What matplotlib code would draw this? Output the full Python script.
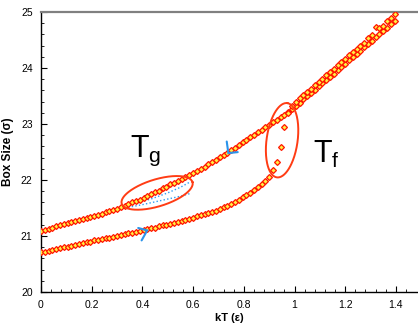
import matplotlib
matplotlib.use("Agg")
import matplotlib.pyplot as plt
import numpy as np

plt.rcParams['font.family'] = ['Liberation Sans', 'DejaVu Sans']

# temperature grid shared by both runs
kT = [0.000, 0.015, 0.030, 0.045, 0.060, 0.075, 0.090, 0.105, 0.120, 0.135,
      0.150, 0.165, 0.180, 0.195, 0.210, 0.225, 0.240, 0.255, 0.270, 0.285,
      0.300, 0.315, 0.330, 0.345, 0.360, 0.375, 0.390, 0.405, 0.420, 0.435,
      0.450, 0.465, 0.480, 0.495, 0.510, 0.525, 0.540, 0.555, 0.570, 0.585,
      0.600, 0.615, 0.630, 0.645, 0.660, 0.675, 0.690, 0.705, 0.720, 0.735,
      0.750, 0.765, 0.780, 0.795, 0.810, 0.825, 0.840, 0.855, 0.870, 0.885,
      0.900, 0.915, 0.930, 0.945, 0.960, 0.975, 0.990, 1.005, 1.020, 1.035,
      1.050, 1.065, 1.080, 1.095, 1.110, 1.125, 1.140, 1.155, 1.170, 1.185,
      1.200, 1.215, 1.230, 1.245, 1.260, 1.275, 1.290, 1.305, 1.320, 1.335,
      1.350, 1.365, 1.380, 1.395]

# cooling run (liquid -> glass)
box_cool = [21.09, 21.11, 21.13, 21.15, 21.17, 21.19, 21.21, 21.23, 21.25, 21.27,
            21.29, 21.30, 21.32, 21.34, 21.36, 21.38, 21.40, 21.42, 21.45, 21.47,
            21.49, 21.52, 21.54, 21.57, 21.60, 21.62, 21.65, 21.68, 21.71, 21.75,
            21.78, 21.81, 21.85, 21.88, 21.92, 21.95, 21.99, 22.02, 22.06, 22.09,
            22.13, 22.16, 22.20, 22.24, 22.28, 22.32, 22.36, 22.41, 22.45, 22.49,
            22.53, 22.58, 22.62, 22.67, 22.71, 22.76, 22.80, 22.85, 22.89, 22.94,
            22.98, 23.03, 23.07, 23.12, 23.16, 23.21, 23.27, 23.33, 23.38, 23.44,
            23.50, 23.56, 23.61, 23.67, 23.73, 23.79, 23.84, 23.90, 23.96, 24.02,
            24.08, 24.14, 24.20, 24.25, 24.31, 24.37, 24.43, 24.49, 24.55, 24.60,
            24.66, 24.72, 24.78, 24.84]

# heating run (crystal -> liquid)
box_heat = [20.71, 20.72, 20.74, 20.75, 20.77, 20.78, 20.80, 20.81, 20.83, 20.84,
            20.86, 20.87, 20.89, 20.90, 20.92, 20.93, 20.95, 20.96, 20.97, 20.99,
            21.00, 21.02, 21.03, 21.05, 21.06, 21.08, 21.09, 21.11, 21.12, 21.14,
            21.15, 21.17, 21.19, 21.20, 21.22, 21.24, 21.25, 21.27, 21.29, 21.31,
            21.33, 21.35, 21.37, 21.39, 21.41, 21.43, 21.45, 21.48, 21.51, 21.54,
            21.58, 21.61, 21.65, 21.69, 21.73, 21.77, 21.82, 21.87, 21.92, 21.98,
            22.05, 22.17, 22.33, 22.59, 22.95, 23.20, 23.33, 23.39, 23.46, 23.52,
            23.58, 23.63, 23.70, 23.75, 23.81, 23.88, 23.93, 23.99, 24.06, 24.11,
            24.16, 24.23, 24.28, 24.34, 24.40, 24.45, 24.53, 24.59, 24.73, 24.71,
            24.75, 24.84, 24.90, 24.96]

# blue dotted runs
blue_kT = [0.0, 0.1, 0.2, 0.3, 0.4, 0.5, 0.6, 0.7, 0.8, 0.9, 0.95]
blue_box = [21.08, 21.21, 21.34, 21.47, 21.64, 21.87, 22.11, 22.37, 22.66, 22.96, 23.12]
branch1_kT = [0.33, 0.40, 0.45, 0.50, 0.55, 0.59]
branch1_box = [21.50, 21.56, 21.61, 21.66, 21.71, 21.76]
branch2_kT = [0.38, 0.44, 0.50, 0.55, 0.59]
branch2_box = [21.59, 21.67, 21.77, 21.87, 21.97]

fig = plt.figure(figsize=(4.18, 3.30), dpi=100)
ax = fig.add_axes([41 / 418, 38 / 330, 377 / 418, 280 / 330])
ax.set_xlim(0, 377 / 253.5)
ax.set_ylim(20, 25)

dot = (0, (1, 1.6))
ax.plot(blue_kT, blue_box, color='#2f9bf0', lw=1.0, ls=dot, zorder=2)
ax.plot(branch1_kT, branch1_box, color='#2f9bf0', lw=1.0, ls=dot, zorder=2)
ax.plot(branch2_kT, branch2_box, color='#2f9bf0', lw=1.0, ls=dot, zorder=2)

mk = dict(ls='none', marker='D', ms=3.0, mfc='#ffee44', mec='#ff1400', mew=0.9, zorder=3)
ax.plot(kT, box_cool, **mk)
ax.plot(kT, box_heat, **mk)

fig.canvas.draw()
to_px = ax.transData
to_data = ax.transData.inverted()


def ellipse(cx, cy, a, b, ang):
    p = to_px.transform((cx, cy))
    t = np.linspace(0, 2 * np.pi, 200)
    th = np.radians(ang)
    px = p[0] + a * np.cos(t) * np.cos(th) - b * np.sin(t) * np.sin(th)
    py = p[1] + a * np.cos(t) * np.sin(th) + b * np.sin(t) * np.cos(th)
    d = to_data.transform(np.column_stack([px, py]))
    ax.plot(d[:, 0], d[:, 1], color='#ff3c14', lw=1.4, zorder=4)


def chevron(x0, y0, arms):
    p = to_px.transform((x0, y0))
    pts = [(p[0] + arms[0][0], p[1] + arms[0][1]), (p[0], p[1]),
           (p[0] + arms[1][0], p[1] + arms[1][1])]
    d = to_data.transform(pts)
    ax.plot(d[:, 0], d[:, 1], color='#2a93ea', lw=1.5, zorder=5,
            solid_capstyle='round', solid_joinstyle='miter')


ellipse(0.458, 21.77, 37, 13.5, 17)
ellipse(0.951, 22.71, 37.5, 15.5, 82)
chevron(0.739, 22.48, [(-1.6, 11.6), (9.4, 1.0)])
chevron(0.419, 21.10, [(-9.0, 2.4), (-5.6, -10.0)])

ax.text(0.351, 22.41, r'$\mathregular{T_g}$', fontsize=22, ha='left', va='baseline')
ax.text(1.073, 22.30, r'$\mathregular{T_f}$', fontsize=22, ha='left', va='baseline')

ax.set_xticks([0, 0.2, 0.4, 0.6, 0.8, 1.0, 1.2, 1.4])
ax.set_xticklabels(['0', '0.2', '0.4', '0.6', '0.8', '1', '1.2', '1.4'])
ax.set_xticks(np.arange(0, 1.48, 0.04), minor=True)
ax.set_yticks([20, 21, 22, 23, 24, 25])
ax.set_yticks(np.arange(20, 25.01, 0.2), minor=True)
ax.tick_params(which='both', direction='in', top=False, right=False, labelsize=7.5, pad=6)
ax.tick_params(which='major', length=4, width=0.8)
ax.tick_params(which='minor', length=2, width=0.6)

ax.spines['right'].set_visible(False)
ax.spines['top'].set_color('#808080')
ax.spines['top'].set_linewidth(1.6)
ax.spines['left'].set_linewidth(1.0)
ax.spines['bottom'].set_linewidth(1.0)

ax.set_xlabel('kT (ε)', fontsize=8, fontweight='bold', labelpad=2)
ax.set_ylabel('Box Size (σ)', fontsize=8.5, fontweight='bold', labelpad=5)

fig.savefig('out.png', dpi=100)
